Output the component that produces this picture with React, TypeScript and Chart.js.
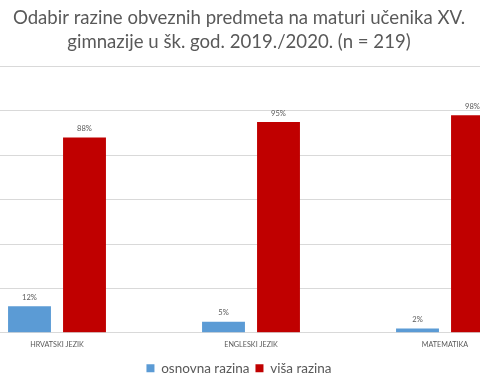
import React, { useEffect, useRef } from "react";
import { Chart, registerables } from "chart.js";

Chart.register(...registerables);

const categories = ["HRVATSKI JEZIK", "ENGLESKI JEZIK", "MATEMATIKA"];
const osnovnaRazina = [12, 5, 2];
const visaRazina = [88, 95, 98];
const seriesNames = ["osnovna razina", "viša razina"];
const titleLines = [
  "Odabir razine obveznih predmeta na maturi učenika XV.",
  "gimnazije u šk. god. 2019./2020. (n = 219)",
];

const FONT = "Lato, 'Liberation Sans', sans-serif";
const TEXT = "#595959";

const valueLabels = {
  id: "valueLabels",
  afterDatasetsDraw(chart: any) {
    const ctx = chart.ctx;
    ctx.save();
    ctx.font = `7.6px ${FONT}`;
    ctx.fillStyle = TEXT;
    ctx.textAlign = "center";
    ctx.textBaseline = "bottom";
    chart.data.datasets.forEach((ds: any, i: number) => {
      chart.getDatasetMeta(i).data.forEach((el: any, j: number) => {
        ctx.fillText(ds.data[j] + "%", el.x, el.y - 5);
      });
    });
    ctx.restore();
  },
};

export default function App() {
  const ref = useRef<HTMLCanvasElement | null>(null);
  useEffect(() => {
    if (!ref.current) return;
    const chart = new Chart(ref.current, {
      type: "bar",
      data: {
        labels: categories,
        datasets: [
          { label: seriesNames[0], data: osnovnaRazina, backgroundColor: "#5B9BD5" },
          { label: seriesNames[1], data: visaRazina, backgroundColor: "#C00000" },
        ],
      },
      options: {
        responsive: false,
        animation: false,
        layout: { padding: { bottom: 0 } },
        datasets: { bar: { categoryPercentage: 0.567, barPercentage: 0.78 } },
        scales: {
          x: {
            grid: { display: false, drawTicks: false },
            border: { color: "#D9D9D9" },
            ticks: { color: TEXT, font: { family: FONT, size: 7.2 }, padding: 7 },
          },
          y: {
            min: 0,
            max: 120,
            ticks: { display: false, stepSize: 20 },
            grid: { color: "#D9D9D9", drawTicks: false },
            border: { display: false },
            afterFit: (scale: any) => {
              scale.width = 24;
            },
          },
        },
        plugins: {
          title: {
            display: true,
            text: titleLines,
            color: TEXT,
            font: { family: FONT, size: 18.6, weight: "normal", lineHeight: 1.3 },
            padding: { top: 6, bottom: 12 },
          },
          legend: {
            position: "bottom",
            labels: {
              color: TEXT,
              boxWidth: 8,
              boxHeight: 8,
              font: { family: FONT, size: 13.5 },
              padding: 6,
            },
          },
          tooltip: { enabled: false },
        },
      },
      plugins: [valueLabels],
    });
    return () => chart.destroy();
  }, []);
  return (
    <div style={{ position: "fixed", left: 0, top: 0, width: 480, height: 385, overflow: "hidden", background: "#fff" }}>
      <canvas ref={ref} width={606} height={385} style={{ position: "absolute", left: -64, top: 0, width: 606, height: 385 }} />
    </div>
  );
}
